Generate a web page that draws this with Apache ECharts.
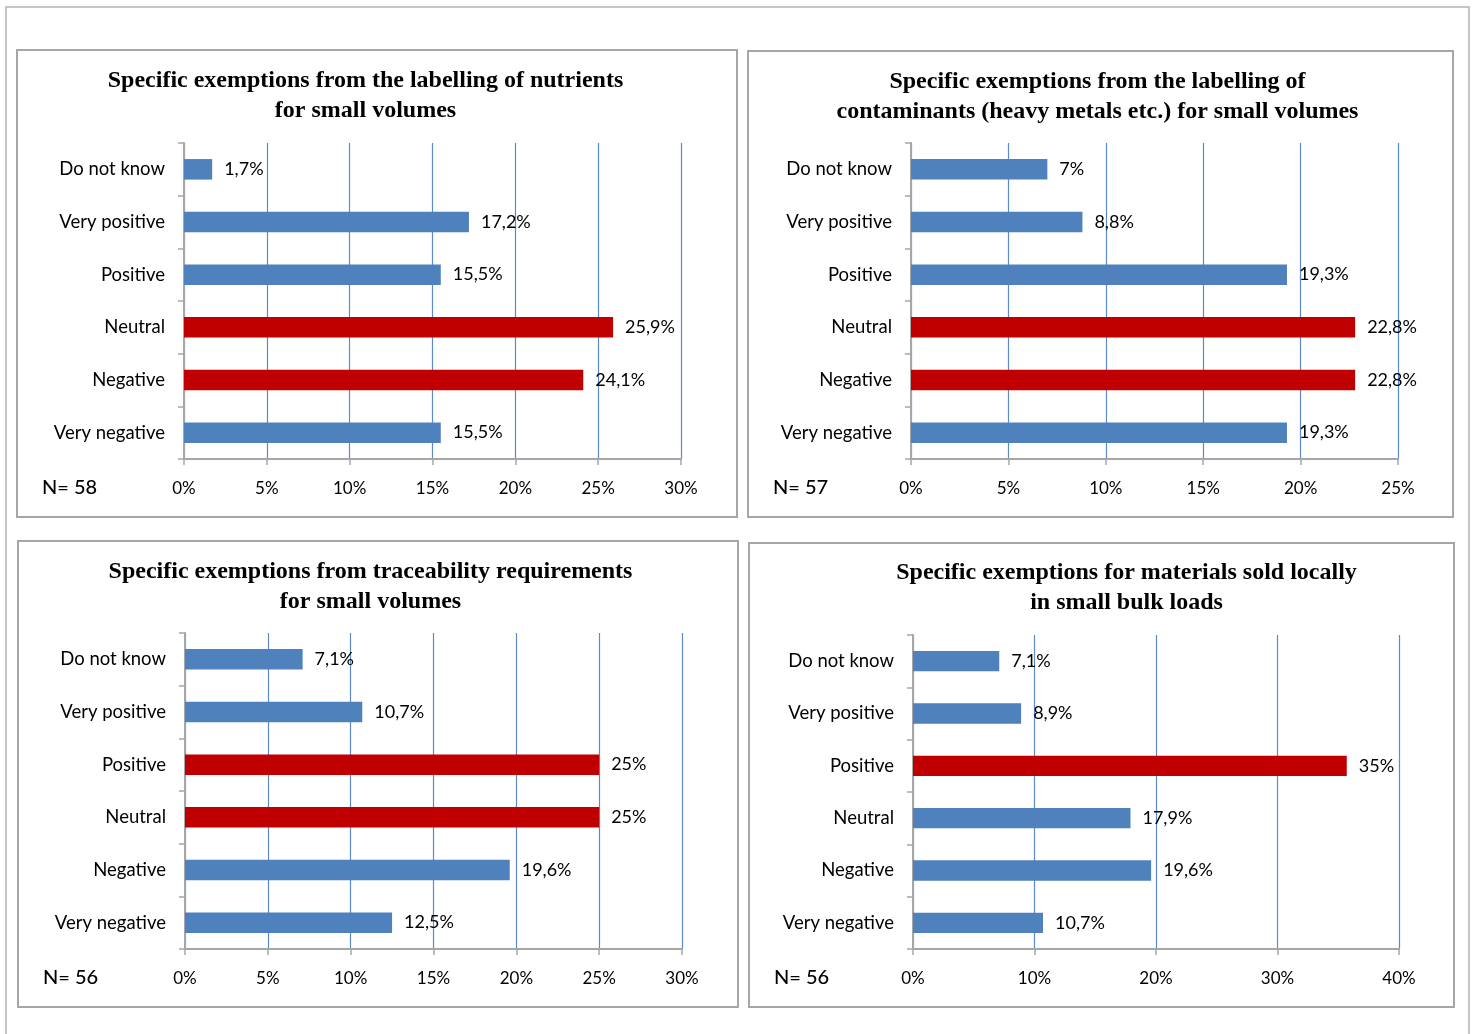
<!DOCTYPE html>
<html><head><meta charset="utf-8">
<script src="https://cdn.jsdelivr.net/npm/echarts@6/dist/echarts.min.js"></script>
<style>html,body{margin:0;padding:0;background:#fff}#c{width:1475px;height:1034px}</style>
</head><body><div id="c"></div>
<script>
const categories = ['Do not know','Very positive','Positive','Neutral','Negative','Very negative'];

const titles = [
  'Specific exemptions from the labelling of nutrients\nfor small volumes',
  'Specific exemptions from the labelling of\ncontaminants (heavy metals etc.) for small volumes',
  'Specific exemptions from traceability requirements\nfor small volumes',
  'Specific exemptions for materials sold locally\nin small bulk loads'
];
const sampleSizes = ['N= 58','N= 57','N= 56','N= 56'];

const values1 = [1.7, 17.2, 15.5, 25.9, 24.1, 15.5];
const labels1 = ['1,7%','17,2%','15,5%','25,9%','24,1%','15,5%'];
const red1 = ['Neutral','Negative'];

const values2 = [7, 8.8, 19.3, 22.8, 22.8, 19.3];
const labels2 = ['7%','8,8%','19,3%','22,8%','22,8%','19,3%'];
const red2 = ['Neutral','Negative'];

const values3 = [7.1, 10.7, 25, 25, 19.6, 12.5];
const labels3 = ['7,1%','10,7%','25%','25%','19,6%','12,5%'];
const red3 = ['Positive','Neutral'];

const values4 = [7.1, 8.9, 35.7, 17.9, 19.6, 10.7];
const labels4 = ['7,1%','8,9%','35%','17,9%','19,6%','10,7%'];
const red4 = ['Positive'];

const axisMax = [30, 25, 30, 40];
const axisStep = [5, 5, 5, 10];

const BLUE = '#4F81BD', RED = '#C00000', GRID = '#5B8CC9', AX = '#A6A6A6';
const FONT = 'Lato';
const SERIF = 'Liberation Serif';

const panels = [
  {x:17, y:50, w:720, h:467, grid:{left:184, width:497, top:143, height:316}, tx:360.5, ty:61, nx:42, ny:490},
  {x:748, y:51, w:705, h:466, grid:{left:911, width:487, top:143, height:316}, tx:1092.5, ty:62, nx:773, ny:490},
  {x:18, y:541, w:720, h:466, grid:{left:185, width:497, top:633, height:316}, tx:365.5, ty:552, nx:43, ny:980},
  {x:749, y:543, w:705, h:464, grid:{left:913, width:486, top:635, height:314}, tx:1121.5, ty:553, nx:774, ny:980}
];
const allValues = [values1, values2, values3, values4];
const allLabels = [labels1, labels2, labels3, labels4];
const allRed = [red1, red2, red3, red4];

const option = {
  animation:false,
  backgroundColor:'#fff',
  title: panels.map((p,i)=>({
    text: titles[i], left: p.tx, top: p.ty, textAlign:'center',
    textStyle:{fontFamily:SERIF, fontWeight:'bold', fontSize:24, lineHeight:30, color:'#000'}
  })),
  grid: panels.map(p=>Object.assign({containLabel:false}, p.grid)),
  xAxis: panels.map((p,i)=>({
    type:'value', gridIndex:i, min:0, max:axisMax[i], interval:axisStep[i],
    axisLine:{show:true, lineStyle:{color:AX, width:2}},
    axisTick:{show:true, length:6, lineStyle:{color:AX, width:1.5}},
    splitLine:{show:true, lineStyle:{color:GRID, width:1.2}},
    axisLabel:{fontFamily:FONT, fontSize:17, color:'#000', margin:21, formatter: v=>v+'%'}
  })),
  yAxis: panels.map((p,i)=>({
    type:'category', gridIndex:i, data:categories, inverse:true,
    axisLine:{show:true, lineStyle:{color:AX, width:2}},
    axisTick:{show:true, length:6, alignWithLabel:false, lineStyle:{color:AX, width:1.5}},
    axisLabel:{fontFamily:FONT, fontSize:18.5, color:'#000', margin:19}
  })),
  series: panels.map((p,i)=>({
    type:'bar', xAxisIndex:i, yAxisIndex:i, barWidth:'39%',
    data: allValues[i].map((v,k)=>({
      value:v,
      itemStyle:{color: allRed[i].includes(categories[k]) ? RED : BLUE}
    })),
    label:{show:true, position:'right', distance:12, fontFamily:FONT, fontSize:18, color:'#000',
      formatter: prm=>allLabels[i][prm.dataIndex]}
  })),
  graphic: [
    {type:'rect', shape:{x:6, y:7, width:1463, height:1040}, style:{fill:null, stroke:'#B4B4B4', lineWidth:1.5}, silent:true, z:-10}
  ].concat(panels.map(p=>({
    type:'rect', shape:{x:p.x, y:p.y, width:p.w, height:p.h}, style:{fill:null, stroke:'#A6A6A6', lineWidth:2}, silent:true, z:-5
  }))).concat(panels.map((p,i)=>({
    type:'text', left:p.nx, top:p.ny-12, style:{text:sampleSizes[i], font:'500 20px '+FONT, fill:'#000'}
  })))
};
const chart = echarts.init(document.getElementById('c'), null, {renderer:'canvas'});
chart.setOption(option);
</script></body></html>
